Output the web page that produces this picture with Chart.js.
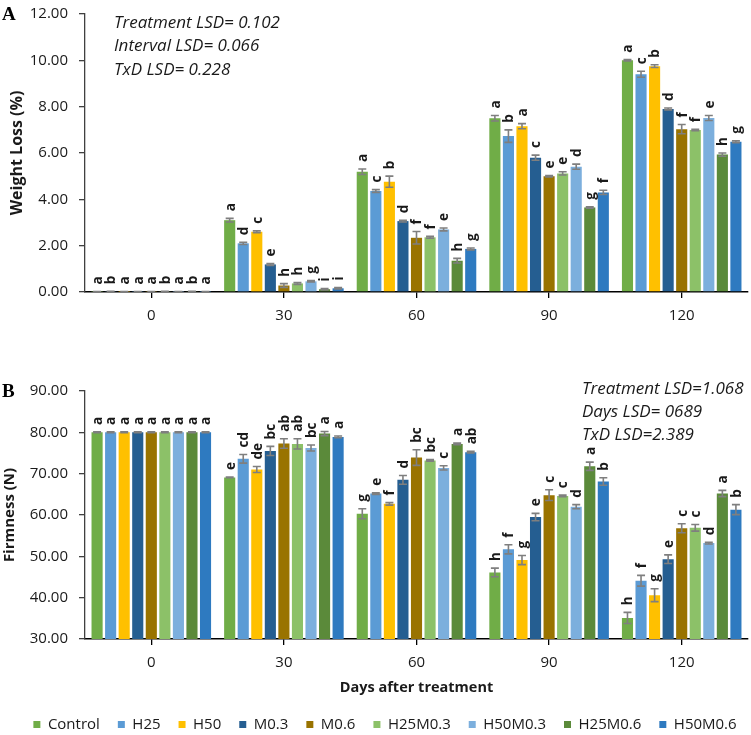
<!DOCTYPE html>
<html>
<head>
<meta charset="utf-8">
<script src="https://cdn.jsdelivr.net/npm/chart.js@4.4.0/dist/chart.umd.min.js"></script>
<style>
  html, body { margin: 0; padding: 0; background: #fff; overflow: hidden; }
  #wrap { position: relative; width: 751px; height: 735px; overflow: hidden; }
  #boxA { position: absolute; left: 0; top: -6px; width: 751px; height: 336px; }
  #boxB { position: absolute; left: 0; top: 330px; width: 751px; height: 412px; }
</style>
</head>
<body>
<div id="wrap">
  <div id="boxA"><canvas id="chartA"></canvas></div>
  <div id="boxB"><canvas id="chartB"></canvas></div>
</div>
<script>
// Data — rows are storage days, columns follow the treatment order
const days = ["0", "30", "60", "90", "120"];
const treatments = ["Control", "H25", "H50", "M0.3", "M0.6", "H25M0.3", "H50M0.3", "H25M0.6", "H50M0.6"];
const colors = ["#70AD47", "#5B9BD5", "#FFC000", "#255E91", "#997300", "#8CC168", "#7CAFDD", "#5B8A3A", "#2E7AC0"];

// Panel A — weight loss (%)
const weightLoss = [
  [0.01, 0.02, 0.01, 0.01, 0.01, 0.02, 0.01, 0.02, 0.01],
  [3.10, 2.10, 2.60, 1.19, 0.28, 0.37, 0.46, 0.12, 0.16],
  [5.19, 4.36, 4.76, 3.06, 2.34, 2.36, 2.70, 1.35, 1.86],
  [7.50, 6.73, 7.16, 5.80, 5.00, 5.12, 5.41, 3.65, 4.30],
  [10.00, 9.40, 9.75, 7.90, 7.03, 6.99, 7.51, 5.93, 6.49]
];
const weightLossErr = [
  [0.01, 0.01, 0.01, 0.01, 0.01, 0.01, 0.01, 0.01, 0.01],
  [0.08, 0.05, 0.04, 0.04, 0.08, 0.04, 0.03, 0.03, 0.03],
  [0.12, 0.06, 0.24, 0.04, 0.27, 0.04, 0.06, 0.10, 0.04],
  [0.12, 0.27, 0.11, 0.11, 0.03, 0.07, 0.11, 0.03, 0.09],
  [0.03, 0.13, 0.06, 0.04, 0.20, 0.03, 0.11, 0.07, 0.04]
];
const weightLossLetters = [
  ["a", "b", "a", "a", "a", "b", "a", "b", "a"],
  ["a", "d", "c", "e", "h", "h", "g", "i", "i"],
  ["a", "c", "b", "d", "f", "f", "e", "h", "g"],
  ["a", "b", "a", "c", "e", "e", "d", "g", "f"],
  ["a", "c", "b", "d", "f", "f", "e", "h", "g"]
];
const weightLossTicks = { min: 0, max: 12, step: 2 };
const weightLossNotes = ["Treatment LSD= 0.102", "Interval LSD= 0.066", "TxD LSD= 0.228"];

// Panel B — firmness (N)
const firmness = [
  [80.0, 80.0, 80.0, 80.0, 80.0, 80.0, 80.0, 80.0, 80.0],
  [69.1, 73.6, 71.0, 75.5, 77.3, 77.2, 76.2, 79.7, 78.9],
  [60.3, 65.2, 62.7, 68.5, 73.9, 73.2, 71.4, 77.2, 75.2],
  [46.1, 51.7, 49.1, 59.5, 64.8, 64.6, 62.0, 71.8, 68.1],
  [35.1, 44.1, 40.6, 49.3, 56.8, 56.9, 53.2, 65.2, 61.3]
];
const firmnessErr = [
  [0.1, 0.1, 0.1, 0.1, 0.1, 0.1, 0.1, 0.1, 0.1],
  [0.1, 1.05, 0.72, 1.1, 1.15, 1.25, 0.72, 0.5, 0.2],
  [1.2, 0.2, 0.3, 1.05, 1.9, 0.2, 0.5, 0.2, 0.2],
  [1.05, 1.1, 1.1, 0.9, 1.3, 0.2, 0.5, 1.0, 0.9],
  [1.35, 1.3, 1.55, 1.05, 1.1, 0.8, 0.2, 0.75, 1.2]
];
const firmnessLetters = [
  ["a", "a", "a", "a", "a", "a", "a", "a", "a"],
  ["e", "cd", "de", "bc", "ab", "ab", "bc", "a", "a"],
  ["g", "e", "f", "d", "bc", "bc", "c", "a", "ab"],
  ["h", "f", "g", "e", "c", "c", "d", "a", "b"],
  ["h", "f", "g", "e", "c", "c", "d", "a", "b"]
];
const firmnessTicks = { min: 30, max: 90, step: 10 };
const firmnessNotes = ["Treatment LSD=1.068", "Days LSD= 0689", "TxD LSD=2.389"];

const FONT = "'Open Sans', sans-serif";
const TEXT = "#1a1a1a";

// error bars + significance letters on top of each bar
const errorLetters = {
  id: "errorLetters",
  afterDatasetsDraw(chart) {
    const { ctx } = chart;
    const y = chart.scales.y;
    ctx.save();
    chart.data.datasets.forEach((ds, i) => {
      const meta = chart.getDatasetMeta(i);
      meta.data.forEach((bar, d) => {
        const v = ds.data[d], e = ds.errors[d];
        const top = y.getPixelForValue(v + e);
        const bot = y.getPixelForValue(v - e);
        ctx.strokeStyle = "#7f7f7f";
        ctx.lineWidth = 1.6;
        ctx.beginPath();
        ctx.moveTo(bar.x, top); ctx.lineTo(bar.x, bot);
        ctx.moveTo(bar.x - 4, top); ctx.lineTo(bar.x + 4, top);
        ctx.moveTo(bar.x - 4, bot); ctx.lineTo(bar.x + 4, bot);
        ctx.stroke();

        ctx.save();
        ctx.translate(bar.x + 1, top - 7);
        ctx.rotate(-Math.PI / 2);
        ctx.fillStyle = TEXT;
        ctx.font = "bold 13.5px " + FONT;
        ctx.textAlign = "left";
        ctx.textBaseline = "middle";
        ctx.fillText(ds.letters[d], 0, 0);
        ctx.restore();
      });
    });
    ctx.restore();
  }
};

// LSD notes and panel letter
const panelText = {
  id: "panelText",
  afterLayout(chart, args, opts) {
    // nudge the legend row a little to the right, like the original
    if (chart.legend && opts.legendShift) {
      chart.legend.left += opts.legendShift;
      chart.legend.right += opts.legendShift;
    }
  },
  afterDraw(chart, args, opts) {
    const { ctx } = chart;
    ctx.save();
    ctx.fillStyle = "#000";
    ctx.font = "bold 19px 'Liberation Serif', serif";
    ctx.textBaseline = "middle";
    ctx.textAlign = "left";
    ctx.fillText(opts.panel, 2, opts.panelY);
    ctx.fillStyle = TEXT;
    ctx.font = "italic 17px " + FONT;
    opts.notes.forEach((t, k) => ctx.fillText(t, opts.noteX, opts.noteY + k * opts.noteStep));
    ctx.restore();
  }
};

function makeDatasets(values, errs, letters) {
  return treatments.map((name, i) => ({
    label: name,
    data: days.map((_, d) => values[d][i]),
    errors: days.map((_, d) => errs[d][i]),
    letters: days.map((_, d) => letters[d][i]),
    backgroundColor: colors[i],
    borderWidth: 0,
    categoryPercentage: 0.92,
    barPercentage: 0.82
  }));
}

function makeChart(id, cfg) {
  const ctx = document.getElementById(id).getContext("2d");
  return new Chart(ctx, {
    type: "bar",
    data: { labels: days, datasets: makeDatasets(cfg.values, cfg.errs, cfg.letters) },
    plugins: [errorLetters, panelText],
    options: {
      responsive: true,
      maintainAspectRatio: false,
      animation: false,
      layout: { padding: { top: cfg.padTop, left: 0, right: 3, bottom: 0 } },
      plugins: {
        legend: {
          display: cfg.legend,
          position: "bottom",
          labels: { boxWidth: 7, boxHeight: 7, padding: 18, color: TEXT, font: { family: FONT, size: 15 } }
        },
        tooltip: { enabled: false },
        panelText: cfg.text
      },
      scales: {
        x: {
          grid: { display: true, drawOnChartArea: false, offset: false, tickLength: 6, color: "#000", lineWidth: 1.3 },
          border: { display: true, color: "#000", width: 1.5 },
          ticks: { color: TEXT, padding: 9, font: { family: FONT, size: 15 } },
          title: {
            display: !!cfg.xTitle, text: cfg.xTitle, color: TEXT,
            padding: { top: 0, bottom: 2 }, font: { family: FONT, size: 14.5, weight: "bold" }
          },
          afterFit(scale) { scale.height = cfg.xHeight; }
        },
        y: {
          min: cfg.ticks.min, max: cfg.ticks.max,
          grid: { display: true, drawOnChartArea: false, tickLength: 6, color: "#404040", lineWidth: 1.3 },
          border: { display: true, color: "#404040", width: 1.3 },
          ticks: {
            stepSize: cfg.ticks.step, color: TEXT, padding: 11,
            font: { family: FONT, size: 15 },
            callback: v => Number(v).toFixed(2)
          },
          title: {
            display: true, text: cfg.yTitle, color: TEXT,
            padding: { top: cfg.yTitlePad, bottom: 0 },
            font: { family: FONT, size: cfg.yTitleSize, weight: "bold" }
          },
          afterFit(scale) { scale.width = 85; }
        }
      }
    }
  });
}

makeChart("chartA", {
  values: weightLoss, errs: weightLossErr, letters: weightLossLetters,
  ticks: weightLossTicks, yTitle: "Weight Loss (%)", yTitleSize: 16, yTitlePad: 8,
  padTop: 20, xHeight: 38, legend: false, xTitle: "",
  text: { panel: "A", panelY: 21, notes: weightLossNotes, noteX: 114, noteY: 29, noteStep: 23.5 }
});

makeChart("chartB", {
  values: firmness, errs: firmnessErr, letters: firmnessLetters,
  ticks: firmnessTicks, yTitle: "Firmness (N)", yTitleSize: 15, yTitlePad: 1,
  padTop: 61, xHeight: 60, legend: true, xTitle: "Days after treatment",
  text: { panel: "B", panelY: 62, notes: firmnessNotes, noteX: 582, noteY: 59.5, noteStep: 23, legendShift: 11 }
});
</script>
</body>
</html>
